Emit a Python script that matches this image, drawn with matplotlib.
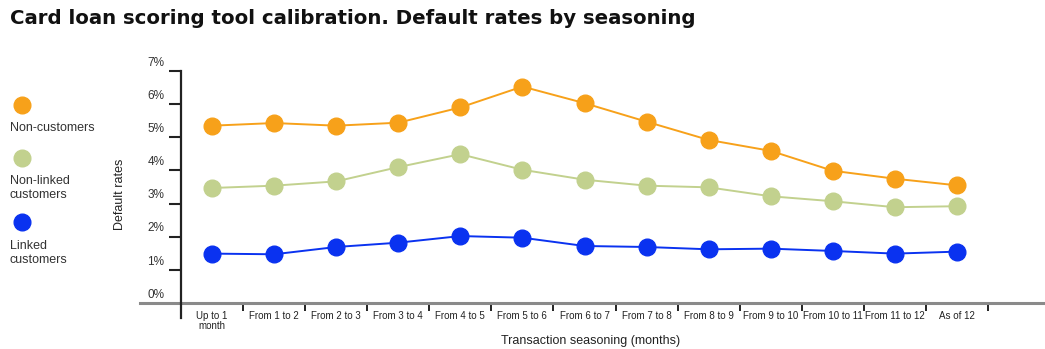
import matplotlib
matplotlib.use('Agg')
import matplotlib.pyplot as plt
from matplotlib.ticker import FixedLocator, NullFormatter

NARROW = ['Liberation Sans', 'DejaVu Sans']

categories = ['Up to 1\nmonth', 'From 1 to 2', 'From 2 to 3', 'From 3 to 4', 'From 4 to 5',
              'From 5 to 6', 'From 6 to 7', 'From 7 to 8', 'From 8 to 9', 'From 9 to 10',
              'From 10 to 11', 'From 11 to 12', 'As of 12']
non_customers = [5.35, 5.43, 5.35, 5.44, 5.90, 6.53, 6.03, 5.47, 4.92, 4.59, 3.99, 3.75, 3.55]
non_linked = [3.47, 3.54, 3.67, 4.10, 4.49, 4.02, 3.72, 3.54, 3.49, 3.22, 3.07, 2.89, 2.92]
linked = [1.49, 1.47, 1.69, 1.82, 2.02, 1.97, 1.72, 1.69, 1.62, 1.64, 1.57, 1.49, 1.55]
y_ticks = [0, 1, 2, 3, 4, 5, 6, 7]

series = [
    ('Non-customers', non_customers, '#F7A11A'),
    ('Non-linked\ncustomers', non_linked, '#C2D18E'),
    ('Linked\ncustomers', linked, '#0A32F0'),
]

fig = plt.figure(figsize=(10.45, 3.49), dpi=100)
ax = fig.add_axes([181 / 1045, 46 / 349, 807 / 1045, 232 / 349])

x = list(range(len(categories)))
for name, values, color in series:
    ax.plot(x, values, color=color, lw=1.4, marker='o', ms=12, mec=color, zorder=3)

ax.set_xlim(-0.5, len(categories) - 0.5)
ax.set_ylim(0, 7)

for side in ['top', 'right', 'bottom']:
    ax.spines[side].set_visible(False)
ax.spines['left'].set_bounds(-0.45, 7)
ax.spines['left'].set_linewidth(1.6)
ax.spines['left'].set_color('#222222')

# gray baseline running past both ends of the plot
ax.axhline(0, xmin=-41 / 807, xmax=1.08, color='#8a8a8a', lw=2.2, clip_on=False, zorder=2)

# y ticks with labels sitting just above each tick
ax.set_yticks(y_ticks[1:])
ax.yaxis.set_major_formatter(NullFormatter())
ax.tick_params(axis='y', direction='out', length=9, width=1.5, color='#222222')
for v in y_ticks:
    ax.annotate(f'{v}%', xy=(0, v), xycoords=('axes fraction', 'data'),
                xytext=(-12, 6), textcoords='offset points', ha='right', va='center',
                fontsize=8.5, family=NARROW, color='#333333')

# category labels centred, boundary ticks between them
ax.xaxis.set_major_locator(FixedLocator(x))
ax.set_xticklabels(categories, family=NARROW, fontsize=7, color='#222222', linespacing=0.9)
ax.tick_params(axis='x', which='major', length=0, pad=6)
ax.xaxis.set_minor_locator(FixedLocator([i - 0.5 for i in range(1, len(categories) + 1)]))
ax.tick_params(axis='x', which='minor', direction='out', length=6, width=1.4, color='#222222')

ax.set_ylabel('Default rates', family=NARROW, fontsize=9, color='#222222')
ax.yaxis.set_label_coords(-0.068, 0.47)
ax.set_xlabel('Transaction seasoning (months)', family=NARROW, fontsize=9, color='#222222')
ax.xaxis.set_label_coords(0.507, -0.14)

# legend on the left: dot above each name
legend_pos = [(22, 105, 128), (22, 158, 188), (22, 222, 253)]
for (name, values, color), (mx, my, ty) in zip(series, legend_pos):
    fig.lines.append(plt.Line2D([mx / 1045], [1 - my / 349], marker='o', ms=12,
                                color=color, mec=color, transform=fig.transFigure))
    fig.text(10 / 1045, 1 - ty / 349, name, ha='left', va='center', family=NARROW,
             fontsize=9, color='#333333', linespacing=1.3)

fig.text(10 / 1045, 1 - 18 / 349, 'Card loan scoring tool calibration. Default rates by seasoning',
         ha='left', va='center', fontsize=14.2, fontweight='bold', color='#111111')

fig.savefig('out.png', dpi=100, facecolor='white')
